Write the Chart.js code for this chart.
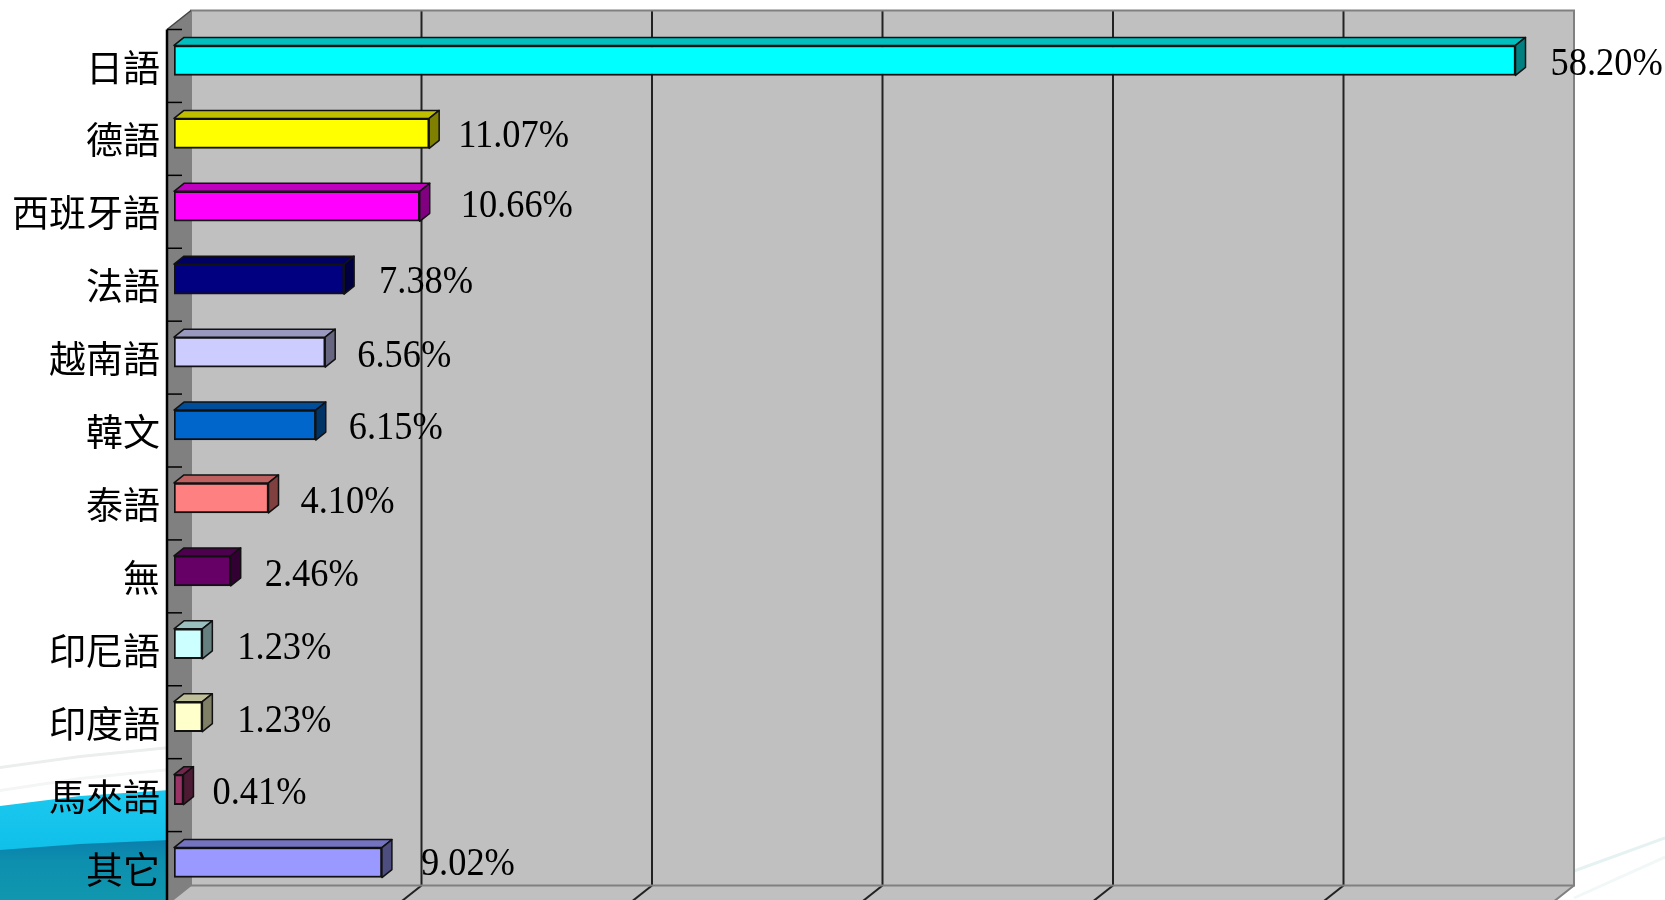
<!DOCTYPE html>
<html>
<head>
<meta charset="utf-8">
<title>語言</title>
<script src="https://cdn.jsdelivr.net/npm/chart.js@4/dist/chart.umd.min.js"></script>
<style>
  html, body { margin: 0; padding: 0; background: #fff; overflow: hidden; }
  #wrap { position: absolute; left: 0; top: 0; width: 1665px; height: 900px; }
</style>
</head>
<body>
<div id="wrap"><canvas id="lang-chart"></canvas></div>
<script>
const languages = ['日語', '德語', '西班牙語', '法語', '越南語', '韓文', '泰語', '無', '印尼語', '印度語', '馬來語', '其它'];
const percents = [58.20, 11.07, 10.66, 7.38, 6.56, 6.15, 4.10, 2.46, 1.23, 1.23, 0.41, 9.02];
const valueTicks = [0, 10, 20, 30, 40, 50, 60];
const barColors = ['#00FFFF', '#FFFF00', '#FF00FF', '#000080', '#CCCCFF', '#0066CC', '#FF8080', '#660066', '#CCFFFF', '#FFFFCC', '#993366', '#9999FF'];

// las etiquetas del original no estan alineadas de forma uniforme
const labelGaps = [35, 29, 41, 35, 32, 33, 32, 34, 35, 35, 29, 39];
const labelLifts = [0, 1, 4, 1, 0, 1, 0, 0, 0, 0, 1, 3];

const barDepth = { x: 10, y: 8 };    // cara superior y lateral de las barras
const toBack = { x: 17, y: 13.5 };   // del plano de las barras a la pared del fondo
const toFront = { x: 7, y: 5.5 };    // del plano de las barras al eje frontal

function shade(hex, f) {
    const n = parseInt(hex.slice(1), 16);
    const r = Math.round((n >> 16 & 255) * f);
    const g = Math.round((n >> 8 & 255) * f);
    const b = Math.round((n & 255) * f);
    return `rgb(${r},${g},${b})`;
}

function poly(ctx, pts, fill, stroke, width) {
    ctx.beginPath();
    pts.forEach((p, i) => i ? ctx.lineTo(p[0], p[1]) : ctx.moveTo(p[0], p[1]));
    ctx.closePath();
    if (fill) { ctx.fillStyle = fill; ctx.fill(); }
    if (stroke) { ctx.strokeStyle = stroke; ctx.lineWidth = width; ctx.stroke(); }
}

function line(ctx, x1, y1, x2, y2, color, width) {
    ctx.beginPath();
    ctx.moveTo(x1, y1);
    ctx.lineTo(x2, y2);
    ctx.strokeStyle = color;
    ctx.lineWidth = width;
    ctx.stroke();
}

// fondo de la diapositiva: las ondas de abajo
const slideBackground = {
    id: 'slideBackground',
    beforeDraw(chart) {
        const ctx = chart.ctx;
        ctx.save();
        ctx.fillStyle = '#fff';
        ctx.fillRect(0, 0, 1665, 900);
        poly(ctx, [[0, 766], [80, 755], [170, 746], [170, 749], [80, 758], [0, 769]], '#eceeee');
        poly(ctx, [[0, 789], [80, 777], [170, 768], [170, 771], [80, 780], [0, 792]], '#f4f5f5');
        const sky = ctx.createLinearGradient(0, 790, 0, 850);
        sky.addColorStop(0, '#1cc8f0');
        sky.addColorStop(1, '#10c0e8');
        poly(ctx, [[0, 806], [80, 796], [170, 790], [170, 900], [0, 900]], sky);
        const deep = ctx.createLinearGradient(0, 840, 0, 900);
        deep.addColorStop(0, '#0a7fad');
        deep.addColorStop(0.35, '#0d8fae');
        deep.addColorStop(1, '#1097ae');
        poly(ctx, [[0, 850], [80, 844], [170, 840], [170, 900], [0, 900]], deep);
        line(ctx, 1574, 871, 1665, 838, '#e6f2f2', 3);
        line(ctx, 1574, 898, 1665, 857, '#f2f7f7', 3);
        ctx.restore();
    }
};

// paredes, suelo y rejilla en perspectiva
const walls = {
    id: 'walls',
    beforeDatasetsDraw(chart) {
        const ctx = chart.ctx;
        const x = chart.scales.x;
        const y = chart.scales.y;
        const backL = x.getPixelForValue(0) + toBack.x;
        const backR = x.getPixelForValue(60) + toBack.x;
        const backT = y.top - toBack.y;
        const backB = y.bottom - toBack.y;
        const frontL = x.getPixelForValue(0) - toFront.x;
        const frontR = x.getPixelForValue(60) - toFront.x;
        const frontT = y.top + toFront.y;
        const frontB = y.bottom + toFront.y;

        ctx.save();
        poly(ctx, [[frontL, frontB], [backL, backB], [backR, backB], [frontR, frontB]], '#c0c0c0');
        poly(ctx, [[frontL, frontT], [backL, backT], [backL, backB], [frontL, frontB]], '#808080');
        poly(ctx, [[backL, backT], [backR, backT], [backR, backB], [backL, backB]], '#c0c0c0');

        valueTicks.forEach(v => {
            if (v === 0) return;
            const gx = x.getPixelForValue(v);
            if (v < 60) line(ctx, gx + toBack.x, backT, gx + toBack.x, backB, '#222', 2);
            line(ctx, gx + toBack.x, backB, gx - toFront.x, frontB, v < 60 ? '#222' : '#808080', 2);
        });

        poly(ctx, [[backL, backT], [backR, backT], [backR, backB], [backL, backB]], null, '#808080', 2);
        line(ctx, frontL, frontT, backL, backT, '#444', 1.5);
        line(ctx, frontL, frontB, backL, backB, '#808080', 1.5);

        // eje frontal con sus marcas
        line(ctx, frontL, frontT, frontL, 900, '#000', 2.5);
        const band = (y.bottom - y.top) / languages.length;
        for (let i = 0; i < languages.length; i++) {
            line(ctx, frontL, frontT + band * i, frontL + 15, frontT + band * i, '#000', 1.5);
        }
        ctx.restore();
    }
};

// caras 3D de las barras y porcentajes
const barFaces = {
    id: 'barFaces',
    afterDatasetsDraw(chart) {
        const ctx = chart.ctx;
        const bars = chart.getDatasetMeta(0).data;
        ctx.save();
        ctx.lineJoin = 'round';
        bars.forEach((bar, i) => {
            const color = barColors[i];
            const top = bar.y - bar.height / 2;
            const bottom = bar.y + bar.height / 2;
            poly(ctx, [[bar.base, top], [bar.base + barDepth.x, top - barDepth.y], [bar.x + barDepth.x, top - barDepth.y], [bar.x, top]], shade(color, 0.75), '#111', 1.5);
            poly(ctx, [[bar.x, top], [bar.x + barDepth.x, top - barDepth.y], [bar.x + barDepth.x, bottom - barDepth.y], [bar.x, bottom]], shade(color, 0.5), '#111', 1.5);

            // el texto original esta algo estirado en vertical
            ctx.save();
            ctx.translate(bar.x + labelGaps[i], bottom - labelLifts[i]);
            ctx.scale(0.91, 1);
            ctx.font = '40px "Liberation Serif"';
            ctx.fillStyle = '#000';
            ctx.textAlign = 'left';
            ctx.textBaseline = 'alphabetic';
            ctx.fillText(percents[i].toFixed(2) + '%', 0, 0);
            ctx.restore();
        });
        ctx.restore();
    }
};

new Chart(document.getElementById('lang-chart'), {
    type: 'bar',
    data: {
        labels: languages,
        datasets: [{
            data: percents,
            backgroundColor: barColors,
            borderColor: '#111',
            borderWidth: 2,
            borderSkipped: false,
            barThickness: 30
        }]
    },
    options: {
        indexAxis: 'y',
        responsive: true,
        maintainAspectRatio: false,
        animation: false,
        events: [],
        layout: { padding: { top: 24, right: 108, bottom: 1, left: 0 } },
        plugins: { legend: { display: false }, tooltip: { enabled: false } },
        scales: {
            x: { display: false, min: 0, max: 60, grid: { display: false } },
            y: {
                afterFit(scale) {
                    scale.width = 174;
                    scale.paddingTop = 0;
                    scale.paddingBottom = 0;
                },
                grid: { display: false },
                border: { display: false },
                ticks: {
                    padding: 6,
                    labelOffset: 7,
                    color: '#000',
                    autoSkip: false,
                    font: { family: '"Noto Sans CJK TC"', size: 37 }
                }
            }
        }
    },
    plugins: [slideBackground, walls, barFaces]
});
</script>
</body>
</html>
